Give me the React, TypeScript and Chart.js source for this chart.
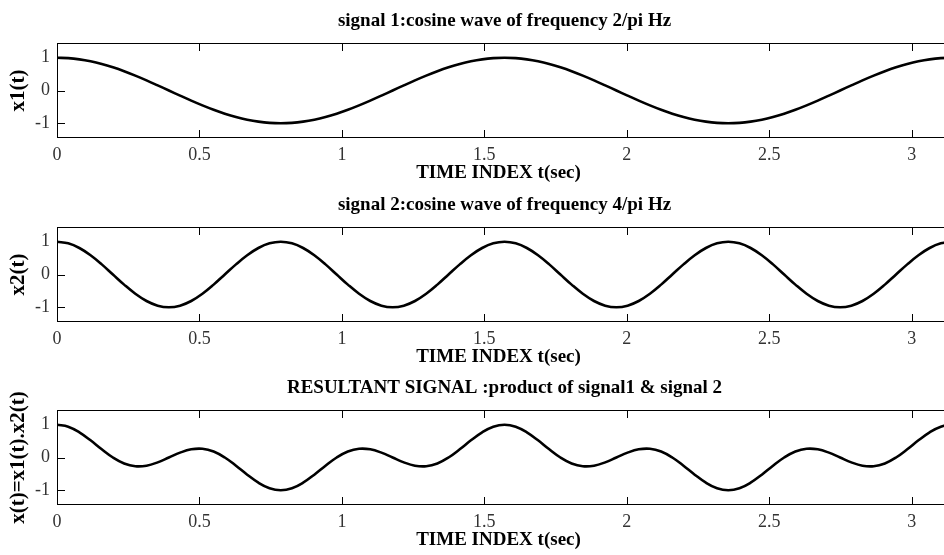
import React, { useEffect, useRef } from "react";
import { Chart, registerables } from "chart.js";

Chart.register(...registerables);

// time samples (sec)
const TIME = [
  0, 0.0393, 0.0785, 0.1178, 0.1571, 0.1963, 0.2356, 0.2749, 0.3142, 0.3534,
  0.3927, 0.4320, 0.4712, 0.5105, 0.5498, 0.5890, 0.6283, 0.6676, 0.7069, 0.7461,
  0.7854, 0.8247, 0.8639, 0.9032, 0.9425, 0.9817, 1.0210, 1.0603, 1.0996, 1.1388,
  1.1781, 1.2174, 1.2566, 1.2959, 1.3352, 1.3744, 1.4137, 1.4530, 1.4923, 1.5315,
  1.5708, 1.6101, 1.6493, 1.6886, 1.7279, 1.7671, 1.8064, 1.8457, 1.8850, 1.9242,
  1.9635, 2.0028, 2.0420, 2.0813, 2.1206, 2.1598, 2.1991, 2.2384, 2.2777, 2.3169,
  2.3562, 2.3955, 2.4347, 2.4740, 2.5133, 2.5525, 2.5918, 2.6311, 2.6704, 2.7096,
  2.7489, 2.7882, 2.8274, 2.8667, 2.9060, 2.9452, 2.9845, 3.0238, 3.0631, 3.1023,
  3.1416,
];

// signal 1
const X1 = [
  1, 0.988, 0.951, 0.891, 0.809, 0.707, 0.588, 0.454, 0.309, 0.156,
  0, -0.156, -0.309, -0.454, -0.588, -0.707, -0.809, -0.891, -0.951, -0.988,
  -1, -0.988, -0.951, -0.891, -0.809, -0.707, -0.588, -0.454, -0.309, -0.156,
  0, 0.156, 0.309, 0.454, 0.588, 0.707, 0.809, 0.891, 0.951, 0.988,
  1, 0.988, 0.951, 0.891, 0.809, 0.707, 0.588, 0.454, 0.309, 0.156,
  0, -0.156, -0.309, -0.454, -0.588, -0.707, -0.809, -0.891, -0.951, -0.988,
  -1, -0.988, -0.951, -0.891, -0.809, -0.707, -0.588, -0.454, -0.309, -0.156,
  0, 0.156, 0.309, 0.454, 0.588, 0.707, 0.809, 0.891, 0.951, 0.988,
  1,
];

// signal 2
const X2 = [
  1, 0.951, 0.809, 0.588, 0.309, 0, -0.309, -0.588, -0.809, -0.951,
  -1, -0.951, -0.809, -0.588, -0.309, 0, 0.309, 0.588, 0.809, 0.951,
  1, 0.951, 0.809, 0.588, 0.309, 0, -0.309, -0.588, -0.809, -0.951,
  -1, -0.951, -0.809, -0.588, -0.309, 0, 0.309, 0.588, 0.809, 0.951,
  1, 0.951, 0.809, 0.588, 0.309, 0, -0.309, -0.588, -0.809, -0.951,
  -1, -0.951, -0.809, -0.588, -0.309, 0, 0.309, 0.588, 0.809, 0.951,
  1, 0.951, 0.809, 0.588, 0.309, 0, -0.309, -0.588, -0.809, -0.951,
  -1, -0.951, -0.809, -0.588, -0.309, 0, 0.309, 0.588, 0.809, 0.951,
  1,
];

// resultant signal
const X3 = [
  1, 0.94, 0.769, 0.524, 0.25, 0, -0.182, -0.267, -0.25, -0.148,
  0, 0.148, 0.25, 0.267, 0.182, 0, -0.25, -0.524, -0.769, -0.94,
  -1, -0.94, -0.769, -0.524, -0.25, 0, 0.182, 0.267, 0.25, 0.148,
  0, -0.148, -0.25, -0.267, -0.182, 0, 0.25, 0.524, 0.769, 0.94,
  1, 0.94, 0.769, 0.524, 0.25, 0, -0.182, -0.267, -0.25, -0.148,
  0, 0.148, 0.25, 0.267, 0.182, 0, -0.25, -0.524, -0.769, -0.94,
  -1, -0.94, -0.769, -0.524, -0.25, 0, 0.182, 0.267, 0.25, 0.148,
  0, -0.148, -0.25, -0.267, -0.182, 0, 0.25, 0.524, 0.769, 0.94,
  1,
];

const TITLES = [
  "signal 1:cosine wave of frequency 2/pi Hz",
  "signal 2:cosine wave of frequency 4/pi Hz",
  "RESULTANT SIGNAL :product of signal1 & signal 2",
];
const YLABELS = ["x1(t)", "x2(t)", "x(t)=x1(t).x2(t)"];
const XLABEL = "TIME INDEX t(sec)";
const X_TICKS = [0, 0.5, 1, 1.5, 2, 2.5, 3];
const X_TICK_LABELS = ["0", "0.5", "1", "1.5", "2", "2.5", "3"];
const Y_TICKS = [-1, 0, 1];
const Y_TICK_LABELS = ["-1", "0", "1"];
const X_MIN = 0;
const X_MAX = 3.1416;
const Y_MIN = -1.45;
const Y_MAX = 1.45;

const SERIF = '"Liberation Serif", "Times New Roman", serif';
const TICK_LEN = 8;

const framePlugin = {
  id: "frame",
  afterDatasetsDraw(chart: any, _args: any, opts: any) {
    const { ctx, chartArea: a, scales } = chart;
    const xs = scales.x;
    const ys = scales.y;
    ctx.save();
    ctx.strokeStyle = "#000";
    ctx.lineWidth = 1;
    ctx.strokeRect(a.left + 0.5, a.top + 0.5, a.right - a.left - 1, a.bottom - a.top - 1);
    ctx.beginPath();
    for (const v of X_TICKS) {
      const px = Math.round(xs.getPixelForValue(v)) + 0.5;
      ctx.moveTo(px, a.top);
      ctx.lineTo(px, a.top + TICK_LEN);
      ctx.moveTo(px, a.bottom);
      ctx.lineTo(px, a.bottom - TICK_LEN);
    }
    for (const v of Y_TICKS) {
      const py = Math.round(ys.getPixelForValue(v)) + 0.5;
      ctx.moveTo(a.left, py);
      ctx.lineTo(a.left + TICK_LEN, py);
      ctx.moveTo(a.right, py);
      ctx.lineTo(a.right - TICK_LEN, py);
    }
    ctx.stroke();

    const cx = (a.left + a.right) / 2;
    ctx.fillStyle = "#000";
    ctx.textAlign = "center";
    ctx.textBaseline = "alphabetic";
    ctx.font = `bold 19px ${SERIF}`;
    ctx.fillText(opts.title, cx, a.top - 17);
    ctx.font = `bold 19px ${SERIF}`;
    ctx.fillText(opts.xlabel, cx - 6, a.bottom + 40);

    ctx.save();
    ctx.translate(19, (a.top + a.bottom) / 2);
    ctx.rotate(-Math.PI / 2);
    ctx.textBaseline = "middle";
    ctx.font = `bold 21px ${SERIF}`;
    ctx.fillText(opts.ylabel, 0, 0);
    ctx.restore();
    ctx.restore();
  },
};

function Panel({ top, values, title, ylabel }: { top: number; values: number[]; title: string; ylabel: string }) {
  const ref = useRef<HTMLCanvasElement | null>(null);
  useEffect(() => {
    const chart = new Chart(ref.current as HTMLCanvasElement, {
      type: "line",
      data: {
        datasets: [
          {
            data: TIME.map((t, i) => ({ x: t, y: values[i] })),
            borderColor: "#000",
            borderWidth: 2.6,
            pointRadius: 0,
            tension: 0.4,
            fill: false,
          },
        ],
      },
      options: {
        animation: false,
        responsive: false,
        devicePixelRatio: 1,
        events: [],
        layout: { padding: { top: 43, right: 8, left: 0, bottom: 0 } },
        plugins: {
          legend: { display: false },
          tooltip: { enabled: false },
          title: { display: false },
          frame: { title, ylabel, xlabel: XLABEL },
        } as any,
        scales: {
          x: {
            type: "linear",
            min: X_MIN,
            max: X_MAX,
            grid: { display: false, drawTicks: false },
            border: { display: false },
            afterBuildTicks: (s: any) => {
              s.ticks = X_TICKS.map((v) => ({ value: v }));
            },
            afterFit: (s: any) => {
              s.height = 47;
            },
            ticks: {
              padding: 6,
              color: "#333",
              font: { family: SERIF, size: 18 },
              maxRotation: 0,
              autoSkip: false,
              callback: (_v: any, i: number) => X_TICK_LABELS[i],
            },
          },
          y: {
            type: "linear",
            min: Y_MIN,
            max: Y_MAX,
            grid: { display: false, drawTicks: false },
            border: { display: false },
            afterBuildTicks: (s: any) => {
              s.ticks = Y_TICKS.map((v) => ({ value: v }));
            },
            afterFit: (s: any) => {
              s.width = 57;
            },
            ticks: {
              padding: 7,
              color: "#333",
              font: { family: SERIF, size: 18 },
              callback: (_v: any, i: number) => Y_TICK_LABELS[i],
            },
          },
        },
      } as any,
      plugins: [framePlugin],
    });
    return () => chart.destroy();
  }, [values, title, ylabel]);
  return (
    <canvas
      ref={ref}
      width={960}
      height={185}
      style={{ position: "absolute", left: 0, top, width: 960, height: 185 }}
    />
  );
}

export default function App() {
  return (
    <div
      style={{
        position: "fixed",
        left: 0,
        top: 0,
        width: 944,
        height: 555,
        overflow: "hidden",
        background: "#fff",
      }}
    >
      <Panel top={0} values={X1} title={TITLES[0]} ylabel={YLABELS[0]} />
      <Panel top={184} values={X2} title={TITLES[1]} ylabel={YLABELS[1]} />
      <Panel top={367} values={X3} title={TITLES[2]} ylabel={YLABELS[2]} />
    </div>
  );
}
